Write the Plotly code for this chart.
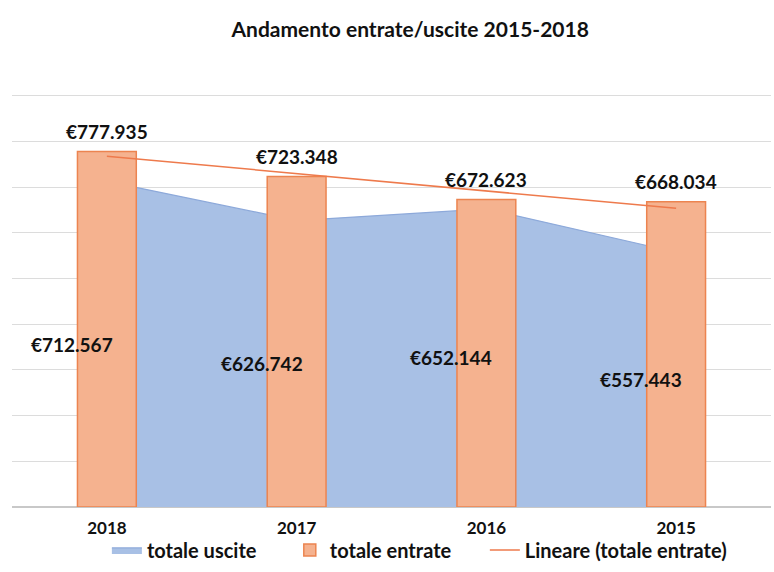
import numpy as np
import plotly.graph_objects as go

# ---- data ----
anni = ["2018", "2017", "2016", "2015"]
totale_uscite = [712567, 626742, 652144, 557443]
totale_entrate = [777935, 723348, 672623, 668034]
y_max = 900000
y_step = 100000
titolo = "Andamento entrate/uscite 2015-2018"


def euro(v):
    return "€" + f"{v:,}".replace(",", ".")


# linear trend of "totale entrate" (Excel 'Lineare')
idx = np.arange(1, len(anni) + 1)
slope, intercept = np.polyfit(idx, totale_entrate, 1)
trend = slope * idx + intercept

FONT = "Lato"
TXT = dict(family=FONT, size=19, color="#111111", weight=700)
LEG_FONT = dict(family=FONT, size=20, color="#111111", weight=700)

fig = go.Figure()
fig.add_trace(go.Scatter(
    x=anni, y=totale_uscite, name="totale uscite", mode="lines",
    fill="tozeroy", fillcolor="#A8C0E5",
    line=dict(color="#8DA9DA", width=1.2),
    xaxis="x", yaxis="y", hoverinfo="skip", legend="legend"))
fig.add_trace(go.Bar(
    x=anni, y=totale_entrate, name="totale entrate", width=0.31,
    marker=dict(color="#F5B28F", line=dict(color="#EC8450", width=1.5)),
    xaxis="x2", yaxis="y2", legend="legend2"))
fig.add_trace(go.Scatter(
    x=anni, y=trend, name="Lineare (totale entrate)", mode="lines",
    line=dict(color="#EE7A4C", width=1.5),
    xaxis="x2", yaxis="y2", legend="legend3"))

annotations = []
for i, v in enumerate(totale_entrate):
    annotations.append(dict(x=i, y=v, xref="x2", yref="y2", text=euro(v),
                            showarrow=False, yshift=20, font=TXT))
for i, v in enumerate(totale_uscite):
    annotations.append(dict(x=i, y=v / 2, xref="x", yref="y", text=euro(v),
                            showarrow=False, xshift=-35, font=TXT))

axis_common = dict(type="category", categoryorder="array", categoryarray=anni,
                   range=[-0.5, len(anni) - 0.5])
y_range = [0, y_max * 1.004]


def leg(x):
    return dict(orientation="h", x=x, xanchor="left", y=-0.104,
                yanchor="middle", bgcolor="rgba(0,0,0,0)", font=LEG_FONT,
                itemwidth=30)


fig.update_layout(
    width=774, height=572,
    paper_bgcolor="white", plot_bgcolor="white",
    margin=dict(l=12, r=3, t=94, b=65),
    title=dict(text=titolo, x=0.53, xanchor="center", y=1 - 30 / 572,
               yanchor="middle", yref="container",
               font=dict(family=FONT, size=21, color="#111111", weight=700)),
    xaxis=dict(**axis_common, showgrid=False, showline=False,
               ticks="outside", ticklen=6, tickcolor="rgba(0,0,0,0)",
               tickfont=dict(family=FONT, size=17, color="#111111", weight=700)),
    yaxis=dict(range=y_range, dtick=y_step, showgrid=True,
               gridcolor="#DCDCDC", gridwidth=1, showticklabels=False,
               zeroline=True, zerolinecolor="#C8C8C8", zerolinewidth=1.5),
    xaxis2=dict(**axis_common, overlaying="x", visible=False),
    yaxis2=dict(range=y_range, overlaying="y", visible=False),
    showlegend=True,
    legend=leg(0.125),
    legend2=leg(0.366),
    legend3=leg(0.623),
    annotations=annotations,
)

fig.write_html("out.html", config={"displayModeBar": False},
               post_script="document.body.style.margin='0';")
